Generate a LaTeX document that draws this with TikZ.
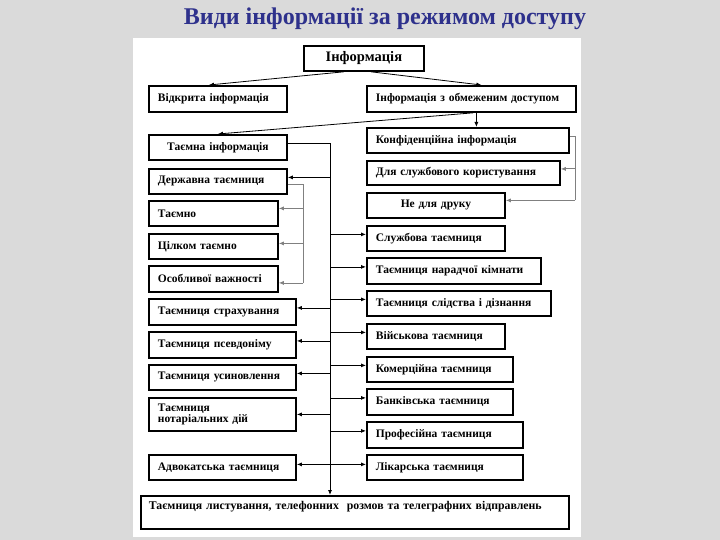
\documentclass[tikz,border=0pt]{standalone}
\usepackage{fontspec}
\setmainfont{Liberation Serif}
\usetikzlibrary{arrows.meta, positioning, calc}
\definecolor{slidegray}{RGB}{218,218,218}
\definecolor{titleblue}{RGB}{46,49,140}

\begin{document}
\begin{tikzpicture}[
        x=1pt, y=-1pt,
        box/.style={draw, line width=1.8pt, anchor=north west, inner xsep=9pt, inner ysep=0pt,
                    align=left, font=\bfseries\fontsize{11.5}{11.5}\selectfont},
        cbox/.style={box, align=center},
        link/.style={line width=0.8pt, -{Latex[length=5pt, width=4pt]}},
        sublink/.style={link, draw=gray}
    ]

    % Slide background
    \useasboundingbox (0,0) rectangle (720,540);
    \fill[slidegray] (0,0) rectangle (720,540);
    \fill[white] (133,38) rectangle (581,537);

    % Title
    \node[font=\bfseries\fontsize{24}{24}\selectfont, text=titleblue] (title) at (385,19) {Види інформації за режимом доступу};

    % Top levels
    \node[cbox, text width=102pt, minimum height=25pt, font=\bfseries\fontsize{14.5}{15}\selectfont] (info) at (303,45) {Інформація};
    \node[box, text width=120pt, minimum height=26pt] (open) at (148,85) {Відкрита інформація};
    \node[box, text width=191pt, minimum height=26pt] (restricted) at (366,85) {Інформація з обмеженим доступом};

    % Left column
    \node[cbox, text width=120pt, minimum height=25pt] (secret) at (148,134) {Таємна інформація};
    \node[box, text width=120pt, minimum height=25pt] (state) at (148,168) {Державна таємниця};
    \node[box, text width=111pt, minimum height=25pt] (classified) at (148,200) {Таємно};
    \node[box, text width=111pt, minimum height=25pt] (topsecret) at (148,233) {Цілком таємно};
    \node[box, text width=111pt, minimum height=26pt] (special) at (148,265) {Особливої важності};
    \node[box, text width=129pt, minimum height=26pt] (insurance) at (148,298) {Таємниця страхування};
    \node[box, text width=129pt, minimum height=26pt] (pseudonym) at (148,331) {Таємниця псевдоніму};
    \node[box, text width=129pt, minimum height=25pt] (adoption) at (148,364) {Таємниця усиновлення};
    \node[box, text width=129pt, minimum height=33pt] (notary) at (148,397) {Таємниця\\нотаріальних дій};
    \node[box, text width=129pt, minimum height=25pt] (lawyer) at (148,454) {Адвокатська таємниця};

    % Right column
    \node[box, text width=184pt, minimum height=25pt] (conf) at (366,127) {Конфіденційна інформація};
    \node[box, text width=175pt, minimum height=24pt] (official) at (366,160) {Для службового користування};
    \node[cbox, text width=120pt, minimum height=25pt] (noprint) at (366,192) {Не для друку};
    \node[box, text width=120pt, minimum height=25pt] (service) at (366,225) {Службова таємниця};
    \node[box, text width=156pt, minimum height=26pt] (jury) at (366,257) {Таємниця нарадчої кімнати};
    \node[box, text width=166pt, minimum height=25pt] (inquiry) at (366,290) {Таємниця слідства і дізнання};
    \node[box, text width=120pt, minimum height=25pt] (military) at (366,323) {Військова таємниця};
    \node[box, text width=128pt, minimum height=25pt] (trade) at (366,356) {Комерційна таємниця};
    \node[box, text width=128pt, minimum height=26pt] (bank) at (366,388) {Банківська таємниця};
    \node[box, text width=138pt, minimum height=26pt] (profession) at (366,421) {Професійна таємниця};
    \node[box, text width=138pt, minimum height=25pt] (medical) at (366,454) {Лікарська таємниця};

    % Bottom
    \node[box, inner xsep=8pt, inner ysep=5pt, text width=412pt, text height=9pt, text depth=14pt,
          font=\bfseries\fontsize{11.8}{12}\selectfont] (letters) at (140,495)
        {Таємниця листування, телефонних\ \ розмов та телеграфних відправлень};

    % Bus positions
    \coordinate (trunk) at (330,0);
    \coordinate (statebus) at (303,0);
    \coordinate (confbus) at (575,0);

    % Upper links
    \draw[link] ([xshift=-20pt]info.south) -- ([xshift=-9pt]open.north);
    \draw[link] ([xshift=7pt]info.south) -- ([xshift=10pt]restricted.north);
    \draw[link] ([xshift=2pt]restricted.south) -- (secret.north);
    \draw[link] ([xshift=5pt]restricted.south) -- ([xshift=5pt]restricted.south |- conf.north);

    % Main trunk
    \draw[link] ([yshift=4pt]secret.east) -| (trunk |- letters.north);
    \foreach \n/\s in {state/4, insurance/4, pseudonym/4, adoption/4, notary/0, lawyer/3}
        \draw[link] ([yshift=\s pt]\n.east -| trunk) -- ([yshift=\s pt]\n.east);
    \foreach \n/\s in {service/4, jury/4, inquiry/4, military/4, trade/4, bank/4, profession/4, medical/3}
        \draw[link] ([yshift=\s pt]\n.west -| trunk) -- ([yshift=\s pt]\n.west);

    % State secret grades
    \draw[sublink, -] ([yshift=-3pt]state.east) -| ([yshift=-4pt]special.east -| statebus);
    \foreach \n/\s in {classified/5, topsecret/3, special/-4}
        \draw[sublink] ([yshift=\s pt]\n.east -| statebus) -- ([yshift=\s pt]\n.east);

    % Confidential branches
    \draw[sublink, -] ([yshift=4pt]conf.east) -| ([yshift=5pt]noprint.east -| confbus);
    \foreach \n/\s in {official/4, noprint/5}
        \draw[sublink] ([yshift=\s pt]\n.east -| confbus) -- ([yshift=\s pt]\n.east);

\end{tikzpicture}
\end{document}
